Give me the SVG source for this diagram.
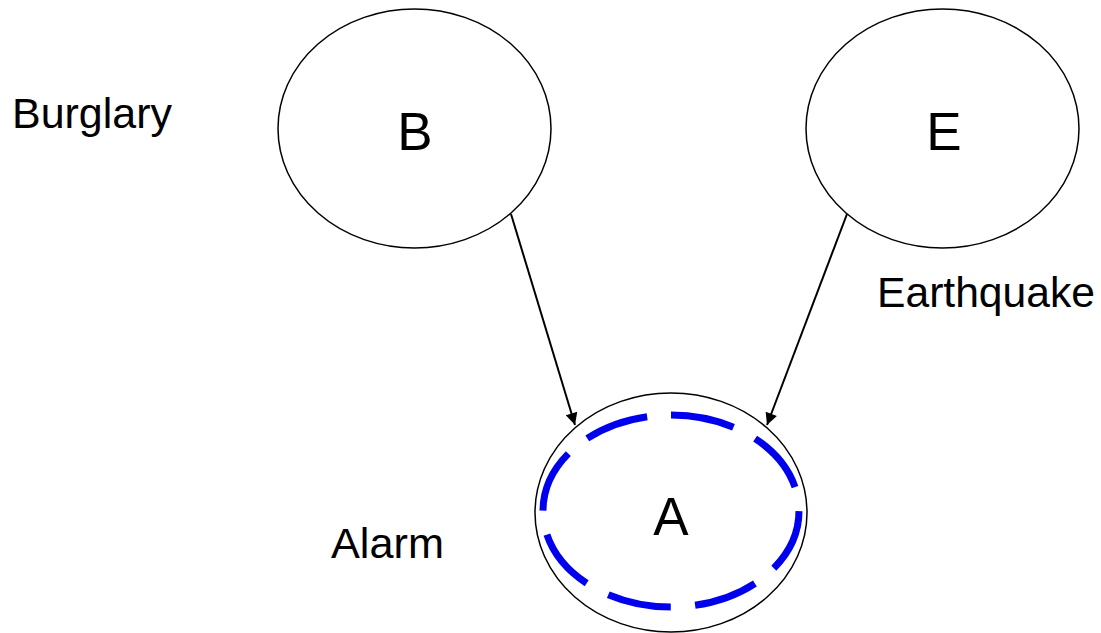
<svg xmlns="http://www.w3.org/2000/svg" width="1101" height="633" viewBox="0 0 1101 633">
<style>
.node{fill:#fff;stroke:#000;stroke-width:1.5}
.lbl{font-family:"Liberation Sans",Arial,sans-serif;font-size:43px;fill:#000}
.let{font-family:"Liberation Sans",Arial,sans-serif;font-size:53px;fill:#000;text-anchor:middle}
.edge{stroke:#000;stroke-width:2;fill:none;marker-end:url(#ah)}
.hl{fill:none;stroke:#0000ee;stroke-width:7;stroke-dasharray:64 24.4}
</style>
<defs>
<marker id="ah" viewBox="0 0 10 10" refX="10" refY="5" markerWidth="6.5" markerHeight="6" orient="auto" markerUnits="strokeWidth">
<path d="M0,0 L10,5 L0,10 z" fill="#000"/>
</marker>
</defs>
<rect width="1101" height="633" fill="#fff"/>
<g id="connectors">
<line class="edge" x1="511" y1="214" x2="575" y2="425"/>
<line class="edge" x1="847" y1="214" x2="767" y2="425"/>
</g>
<g id="node-B">
<ellipse class="node" cx="414.5" cy="128.5" rx="136.5" ry="119.5"/>
<text class="let" x="415" y="150">B</text>
</g>
<g id="node-E">
<ellipse class="node" cx="942.5" cy="128.5" rx="136.5" ry="119.5"/>
<text class="let" x="944" y="150">E</text>
</g>
<g id="node-A">
<ellipse class="node" cx="671" cy="512.5" rx="136" ry="119.5"/>
<path class="hl" d="M671,415 A128,96 0 0,1 799,511 A128,96 0 0,1 671,607 A128,96 0 0,1 543,511 A128,96 0 0,1 671,415 Z"/>
<text class="let" x="671" y="535">A</text>
</g>
<g id="labels">
<text class="lbl" x="12" y="128" textLength="160" lengthAdjust="spacingAndGlyphs">Burglary</text>
<text class="lbl" x="877" y="307" textLength="218" lengthAdjust="spacingAndGlyphs">Earthquake</text>
<text class="lbl" x="331" y="558" textLength="113" lengthAdjust="spacingAndGlyphs">Alarm</text>
</g>
</svg>
